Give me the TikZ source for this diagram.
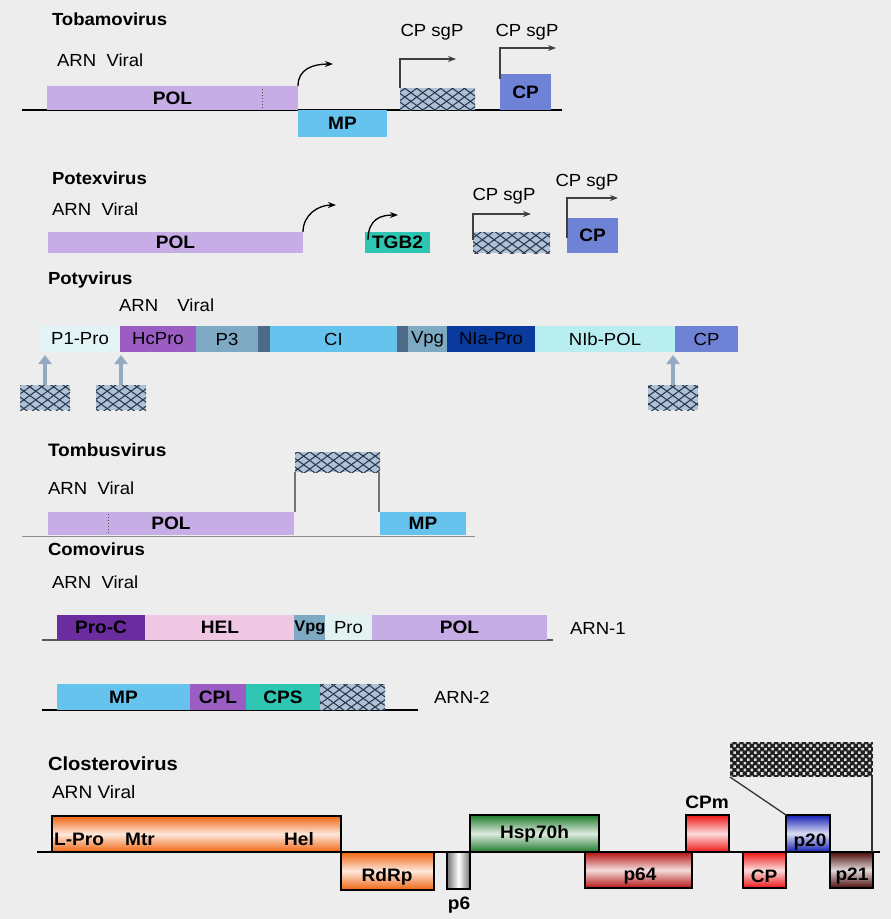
\documentclass[tikz,border=0pt]{standalone}
\usepackage{fontspec}
\setmainfont{Liberation Sans}[FakeStretch=1.06]
\usetikzlibrary{patterns,patterns.meta,arrows.meta}
\definecolor{bgc}{HTML}{EDEDED}
\definecolor{lav}{HTML}{C6ADE6}
\definecolor{mpb}{HTML}{66C3EE}
\definecolor{cpb}{HTML}{6E82D6}
\definecolor{teal}{HTML}{2EC6B2}
\definecolor{hbg}{HTML}{AFC2D4}
\definecolor{hln}{HTML}{26344E}
\definecolor{pone}{HTML}{E2F4F6}
\definecolor{hcp}{HTML}{9B5CC4}
\definecolor{pthree}{HTML}{7EA9C3}
\definecolor{slate}{HTML}{4D6B87}
\definecolor{nia}{HTML}{0A3A9C}
\definecolor{nib}{HTML}{B8EEF0}
\definecolor{proc}{HTML}{6A2C9E}
\definecolor{helc}{HTML}{F1C8E3}
\definecolor{proe}{HTML}{E2F2F2}
\definecolor{parc}{HTML}{93AAC2}
\definecolor{orng}{HTML}{F06410}
\definecolor{grn}{HTML}{1E7A2A}
\definecolor{redb}{HTML}{EE1414}
\definecolor{redd}{HTML}{B41414}
\definecolor{blu}{HTML}{1420B4}
\definecolor{mar}{HTML}{4A0A0A}
\newcommand\mylab{\fontsize{17.5}{19}\selectfont}
\newcommand\mybold{\fontsize{18}{20}\selectfont\bfseries}
\newcommand\mytitle{\fontsize{18}{20}\selectfont\bfseries}
\newcommand\gbox[7]{\node[gbx,#6,minimum width={#4pt-#2pt},minimum height={#5pt-#3pt}] (#1) at ({(#2+#4)/2},{(#3+#5)/2}) {#7};}
\tikzset{
  gbx/.style={inner sep=0pt,outer sep=0pt,font=\mylab},
  bl/.style={font=\mybold},
  txt/.style={inner sep=0pt,outer sep=0pt,font=\mylab,anchor=west},
  ttl/.style={inner sep=0pt,outer sep=0pt,font=\mytitle,anchor=west},
  hatch/.style={fill=hbg,
    postaction={pattern={Lines[angle=36,distance=7pt,line width=1.05pt]},pattern color=hln},
    postaction={pattern={Lines[angle=-36,distance=7pt,line width=1.05pt]},pattern color=hln}},
  dhatch/.style={fill=black!88,
    postaction={pattern={Dots[radius=1.8pt,distance=4.9pt,angle=45]},pattern color=white!88!black}},
  carrow/.style={line width=1.3pt,-{Stealth[length=8pt,width=6pt]}},
  barrow/.style={draw=black!75,line width=1.3pt,-{Stealth[length=8pt,width=6pt,fill=black]}},
  parrow/.style={draw=parc,line width=3.5pt,-{Triangle[length=9pt,width=13pt]},shorten >=3pt},
  base/.style={line width=2.2pt},
  grad/.style={draw=black,line width=2.2pt,top color=#1,bottom color=#1,middle color=white!85!#1},
}
\begin{document}
\begin{tikzpicture}[x=1pt,y=-1pt]
\fill[bgc] (0,0) rectangle (891,919);
\useasboundingbox (0,0) rectangle (891,919);

% ---------------- Tobamovirus
\node[ttl,font=\fontsize{17.5}{19}\selectfont\bfseries] (tobT) at (52,19) {Tobamovirus};
\node[txt] (tobA) at (57,60) {ARN\hspace{0.3em} Viral};
\coordinate (tobL) at (22,110);
\coordinate (tobR) at (562,110);
\draw[base] (tobL) -- (tobR);
\gbox{tpol}{47}{86}{298}{110}{fill=lav,bl}{POL}
\draw[black!70,line width=1pt,dotted] (262,89) -- (262,108);
\gbox{tmp}{298}{110}{387}{137}{fill=mpb,bl}{MP}
\gbox{thatch}{400}{88}{475}{110}{hatch}{}
\gbox{tcp}{500}{74}{551}{110}{fill=cpb,bl}{CP}
\coordinate (tobc1) at (333,64);
\draw[carrow] (tpol.north east) .. controls +(0,-17) and +(-20,0) .. (tobc1);
\coordinate (tobs1) at (456,59);
\coordinate (tobs2) at (556,48);
\draw[barrow] (thatch.north west) |- (tobs1);
\draw[barrow] ([yshift=-5pt]tcp.north west) |- (tobs2);
\node[inner sep=0pt,font=\mylab] (tsg1) at (432,32) {CP sgP};
\node[inner sep=0pt,font=\mylab] (tsg2) at (527,32) {CP sgP};

% ---------------- Potexvirus
\node[ttl,font=\fontsize{17.5}{19}\selectfont\bfseries] (potT) at (52,178) {Potexvirus};
\node[txt] (potA) at (52,209) {ARN\hspace{0.3em} Viral};
\gbox{ppol}{48}{232}{303}{253}{fill=lav,bl}{POL}
\gbox{ptgb}{365}{232}{430}{253}{fill=teal,bl}{TGB2}
\gbox{phatch}{473}{232}{550}{253}{hatch}{}
\gbox{pcp}{567}{218}{618}{253}{fill=cpb,bl}{CP}
\coordinate (potc1) at (336,205);
\coordinate (potc2) at (398,215);
\draw[carrow] (ppol.north east) .. controls +(0,-17) and +(-18,0) .. (potc1);
\draw[carrow] ([xshift=3pt,yshift=-8pt]ptgb.north west) .. controls +(0,-22) and +(-16,0) .. (potc2);
\coordinate (pots1) at (531,214);
\coordinate (pots2) at (618,198);
\draw[barrow] ([yshift=-8pt]phatch.north west) |- (pots1);
\draw[barrow] ([yshift=-20pt]pcp.north west) |- (pots2);
\node[inner sep=0pt,font=\mylab] (psg1) at (504,196) {CP sgP};
\node[inner sep=0pt,font=\mylab] (psg2) at (587,182) {CP sgP};

% ---------------- Potyvirus
\node[ttl,font=\fontsize{17.5}{19}\selectfont\bfseries] (pvT) at (48,280) {Potyvirus};
\node[txt] (pvA) at (119,305) {ARN\hspace{1.1em}Viral};
\gbox{pp1}{40}{326}{120}{352}{fill=pone}{P1-Pro}
\gbox{phc}{120}{326}{196}{352}{fill=hcp}{HcPro}
\gbox{pp3}{196}{326}{258}{352}{fill=pthree}{P3}
\gbox{ps1}{258}{326}{270}{352}{fill=slate}{}
\gbox{pci}{270}{326}{397}{352}{fill=mpb}{CI}
\gbox{ps2}{397}{326}{408}{352}{fill=slate}{}
\gbox{pvpg}{408}{326}{447}{352}{fill=pthree}{Vpg}
\gbox{pnia}{447}{326}{535}{352}{fill=nia}{NIa-Pro}
\gbox{pnib}{535}{326}{675}{352}{fill=nib}{NIb-POL}
\gbox{pvcp}{675}{326}{738}{352}{fill=cpb}{CP}
\gbox{ph1}{20}{385}{70}{410}{hatch}{}
\gbox{ph2}{96}{385}{146}{410}{hatch}{}
\gbox{ph3}{648}{385}{698}{410}{hatch}{}
\draw[parrow] (ph1.north) -- (ph1.north |- pp1.south);
\draw[parrow] (ph2.north) -- (ph2.north |- phc.south);
\draw[parrow] (ph3.north) -- (ph3.north |- pnib.south);

% ---------------- Tombusvirus
\node[ttl] (tbT) at (48,450) {Tombusvirus};
\node[txt] (tbA) at (48,488) {ARN\hspace{0.3em} Viral};
\coordinate (tbL) at (22,536);
\coordinate (tbR) at (475,536);
\draw[black!45,line width=0.8pt] (tbL) -- (tbR);
\gbox{mhatch}{295}{452}{380}{472}{hatch}{}
\gbox{mpol}{48}{512}{294}{535}{fill=lav,bl}{POL}
\draw[black!70,line width=1pt,dotted] (108,514) -- (108,533);
\gbox{mmp}{380}{512}{466}{535}{fill=mpb,bl}{MP}
\draw[black!55,line width=1.5pt] (mhatch.south west) -- (mhatch.south west |- mpol.north);
\draw[black!55,line width=1.5pt] ([xshift=-1pt]mhatch.south east) -- ([xshift=-1pt]mhatch.south east |- mmp.north);

% ---------------- Comovirus
\node[ttl,font=\fontsize{17.5}{19}\selectfont\bfseries] (coT) at (48,549) {Comovirus};
\node[txt] (coA) at (52,582) {ARN\hspace{0.3em} Viral};
\coordinate (c1L) at (42,640);
\coordinate (c1R) at (553,640);
\draw[black!65,line width=1.5pt] (c1L) -- (c1R);
\gbox{cproc}{57}{615}{145}{640}{fill=proc,bl}{Pro-C}
\gbox{chel}{145}{615}{295}{640}{fill=helc,bl}{HEL}
\gbox{cvpg}{295}{615}{325}{640}{fill=pthree,font=\fontsize{15.5}{17}\selectfont\bfseries}{Vpg}
\gbox{cpro}{325}{615}{372}{640}{fill=proe}{Pro}
\gbox{cpol}{372}{615}{547}{640}{fill=lav,bl}{POL}
\node[txt] (arn1) at (570,628) {ARN-1};
\coordinate (c2L) at (42,710);
\coordinate (c2R) at (418,710);
\draw[line width=2pt] (c2L) -- (c2R);
\gbox{cmp}{57}{684}{190}{710}{fill=mpb,bl}{MP}
\gbox{ccpl}{190}{684}{246}{710}{fill=hcp,bl}{CPL}
\gbox{ccps}{246}{684}{320}{710}{fill=teal,bl}{CPS}
\gbox{chatch}{320}{684}{385}{710}{hatch}{}
\node[txt] (arn2) at (434,697) {ARN-2};

% ---------------- Closterovirus
\node[ttl,font=\fontsize{19}{21}\selectfont\bfseries] (clT) at (48,764) {Closterovirus};
\node[txt,font=\fontsize{18}{20}\selectfont] (clA) at (52,792) {ARN Viral};
\coordinate (clL) at (37,852);
\coordinate (clR) at (880,852);
\draw[line width=2.2pt] (clL) -- (clR);
\gbox{lpro}{52}{816}{341}{852}{grad=orng}{}
\node[inner sep=0pt,font=\mybold,anchor=west] (lprot) at (54,839) {L-Pro};
\node[inner sep=0pt,font=\mybold,anchor=west] (mtrt) at (125,839) {Mtr};
\node[inner sep=0pt,font=\mybold,anchor=west] (helt) at (284,839) {Hel};
\gbox{rdrp}{341}{852}{434}{890}{grad=orng}{}
\node[inner sep=0pt,font=\mybold] (rdrpt) at (387,877) {RdRp};
\gbox{p6}{447}{852}{470}{889}{draw=black,line width=2.2pt,left color=black!55,right color=black!55,middle color=white}{}
\node[inner sep=0pt,font=\mybold] (p6t) at (459,905) {p6};
\gbox{hsp}{470}{815}{599}{852}{grad=grn,bl}{Hsp70h}
\gbox{p64}{585}{852}{692}{888}{grad=redd}{}
\node[inner sep=0pt,font=\mybold] (p64t) at (640,876) {p64};
\gbox{cpm}{686}{815}{729}{852}{grad=redb}{}
\node[inner sep=0pt,font=\mybold] (cpmt) at (707,802) {CPm};
\gbox{clcp}{743}{852}{786}{888}{grad=redb}{}
\node[inner sep=0pt,font=\mybold] (clcpt) at (764,876) {CP};
\gbox{p20}{786}{815}{830}{852}{grad=blu}{}
\node[inner sep=0pt,font=\mybold] (p20t) at (810,842) {p20};
\gbox{p21}{830}{852}{873}{888}{grad=mar}{}
\node[inner sep=0pt,font=\mybold] (p21t) at (852,876) {p21};
\gbox{clhatch}{730}{742}{873}{777}{dhatch}{}
\draw[black!80,line width=1.3pt] (clhatch.south west) -- (p20.north west);
\draw[black!80,line width=1.3pt] ([xshift=-1pt]clhatch.south east) -- ([xshift=-1pt]clhatch.south east |- clL);
\end{tikzpicture}
\end{document}
